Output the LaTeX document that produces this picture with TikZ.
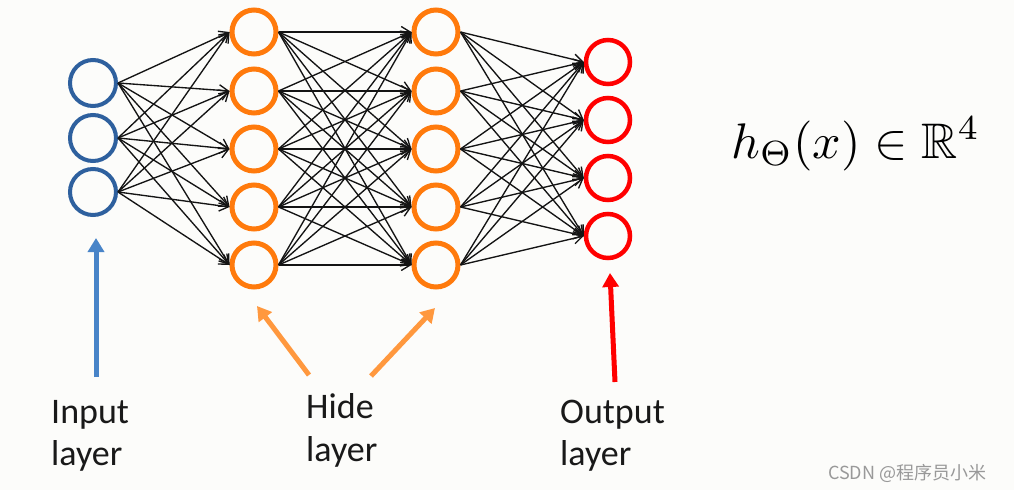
\documentclass[tikz,border=0pt]{standalone}
\usepackage{amssymb}
\usepackage{fontspec}
\setmainfont{Carlito}
\newfontfamily\cjkfont{Noto Sans CJK SC}
\usetikzlibrary{arrows.meta}
\definecolor{inblue}{RGB}{46,96,158}
\definecolor{hidorange}{RGB}{255,122,12}
\definecolor{outred}{RGB}{255,0,0}
\definecolor{arrblue}{RGB}{72,132,200}
\definecolor{arrorange}{RGB}{255,152,62}
\definecolor{bgcol}{RGB}{252,252,250}
\begin{document}
\begin{tikzpicture}[x=1pt,y=-1pt,
  neuron/.style={circle, draw, inner sep=0pt, minimum size=44pt, line width=5pt},
  inneuron/.style={neuron, draw=inblue, line width=4pt, minimum size=46pt},
  hidneuron/.style={neuron, draw=hidorange},
  outneuron/.style={neuron, draw=outred, line width=4.5pt},
  wire/.style={draw=black!92, line width=1.35pt, -{Straight Barb[length=9pt,width=11pt]}},
  pointer/.style={line width=5pt, -{Triangle[length=14pt,width=16pt]}},
  lbl/.style={font=\fontsize{36}{42}\selectfont, inner sep=0pt, anchor=base west, text=black!90},
]
\fill[bgcol] (0,0) rectangle (1014,490);
\useasboundingbox (0,0) rectangle (1014,490);

% input layer
\node[inneuron] (i1) at (93,83) {};
\node[inneuron] (i2) at (93,138) {};
\node[inneuron] (i3) at (93,192) {};
% hidden layer 1
\node[hidneuron] (a1) at (254,32) {};
\node[hidneuron] (a2) at (254,91) {};
\node[hidneuron] (a3) at (254,149) {};
\node[hidneuron] (a4) at (254,207) {};
\node[hidneuron] (a5) at (254,265) {};
% hidden layer 2
\node[hidneuron] (b1) at (436,32) {};
\node[hidneuron] (b2) at (436,91) {};
\node[hidneuron] (b3) at (436,149) {};
\node[hidneuron] (b4) at (436,207) {};
\node[hidneuron] (b5) at (436,265) {};
% output layer
\node[outneuron] (o1) at (608,62) {};
\node[outneuron] (o2) at (608,120) {};
\node[outneuron] (o3) at (608,178) {};
\node[outneuron] (o4) at (608,236) {};

\foreach \s in {1,2,3}
  \foreach \t in {1,...,5}
    \draw[wire] (i\s.east) -- (a\t.west);
\foreach \s in {1,...,5}
  \foreach \t in {1,...,5}
    \draw[wire] (a\s.east) -- (b\t.west);
\foreach \s in {1,...,5}
  \foreach \t in {1,...,4}
    \draw[wire] (b\s.east) -- (o\t.west);

% formula
\node[inner sep=0pt, anchor=base west, font=\fontsize{10}{12}\selectfont] (hyp) at (731,158) {\scalebox{5}{$h_\Theta(x)\in\mathbb{R}^4$}};

% labels
\node[lbl] (inl1) at (51,423) {Input};
\node[lbl] (inl2) at (51,465) {layer};
\node[lbl] (hdl1) at (306,418) {Hide};
\node[lbl] (hdl2) at (306,461) {layer};
\node[lbl] (otl1) at (560,423) {Output};
\node[lbl] (otl2) at (560,465) {layer};

% pointers
\coordinate (inptail) at (96,377);
\coordinate (inptip) at (96,238);
\coordinate (hlatail) at (309,375);
\coordinate (hlatip) at (257,306);
\coordinate (hlbtail) at (371,376);
\coordinate (hlbtip) at (435,308);
\coordinate (outtail) at (615,382);
\coordinate (outtip) at (610,273);
\draw[pointer, arrblue] (inptail) -- (inptip);
\draw[pointer, arrorange] (hlatail) -- (hlatip);
\draw[pointer, arrorange] (hlbtail) -- (hlbtip);
\draw[pointer, outred] (outtail) -- (outtip);

% watermark
\node[inner sep=0pt, anchor=base west, font=\cjkfont\fontsize{18}{20}\selectfont, text=black!40] (wm) at (828,479) {CSDN @程序员小米};
\end{tikzpicture}
\end{document}
